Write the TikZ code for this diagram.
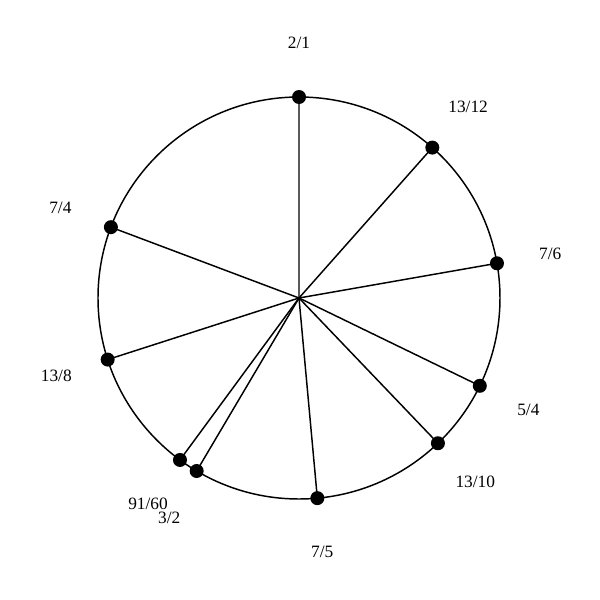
\documentclass[tikz,border=0pt]{standalone}
\usepackage{fontspec}
\setmainfont{Liberation Serif}
\usetikzlibrary{positioning}

\tikzset{
  spoke/.style={line width=1.1pt},
  tone/.style={fill=black},
  ratio/.style={font=\fontsize{13}{15}\selectfont}
}

\begin{document}
\begin{tikzpicture}[x=0.75pt,y=0.75pt]
 \useasboundingbox (-299,-302) rectangle (301,298);
 \draw[spoke] (0,0) circle (201);
 \coordinate (ctr) at (0,0);
 %% angle = 90 - 360*log2(ratio)
 \foreach \nm/\num/\den in {a/2/1,b/13/12,c/7/6,d/5/4,e/13/10,f/7/5,g/3/2,h/91/60,k/13/8,l/7/4}{
   \pgfmathsetmacro{\ang}{90-360*ln(\num/\den)/ln(2)}
   \coordinate (p\nm) at (\ang:201);
   \draw[spoke] (ctr) -- (p\nm);
   \path[tone] (p\nm) circle (7);
   \node[ratio] (t\nm) at (\ang:255) {\num/\den};
 }
\end{tikzpicture}
\end{document}
